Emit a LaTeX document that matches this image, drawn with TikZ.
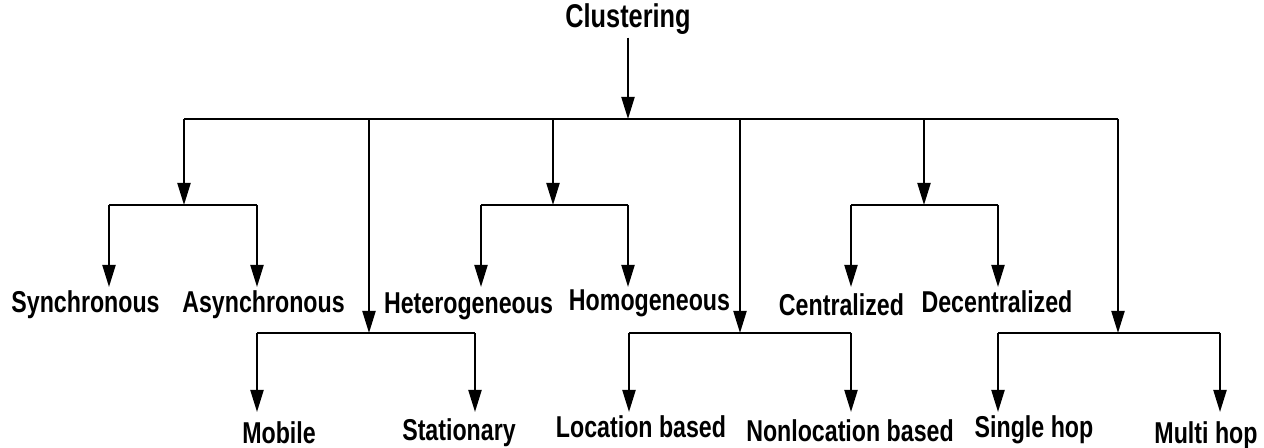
\documentclass[tikz,border=0pt]{standalone}
\usepackage{fontspec}
\setmainfont{Liberation Sans}
\usetikzlibrary{arrows.meta}
\begin{document}
\begin{tikzpicture}
        [leaf/.style={inner sep=0.5pt, anchor=north, yscale=1.3, transform shape, font=\fontsize{6.6}{8}\selectfont\bfseries},
        root/.style={inner sep=0.5pt, yscale=1.3, transform shape, font=\fontsize{7.2}{8}\selectfont\bfseries},
        line/.style={semithick},
        arr/.style={semithick, -{Triangle[length=0.22cm, width=0.13cm]}}]
        \useasboundingbox (0,0) rectangle (12.64,-4.48);
        \node[root] (C) at (6.28,-0.19) {Clustering};

        % top bus
        \coordinate (T1) at (1.84,-1.19);
        \coordinate (T2) at (3.69,-1.19);
        \coordinate (T3) at (5.53,-1.19);
        \coordinate (T0) at (6.28,-1.19);
        \coordinate (T4) at (7.40,-1.19);
        \coordinate (T5) at (9.24,-1.19);
        \coordinate (T6) at (11.18,-1.19);

        % sub buses
        \coordinate (A1) at (1.09,-2.05);
        \coordinate (A2) at (2.57,-2.05);
        \coordinate (H1) at (4.81,-2.05);
        \coordinate (H2) at (6.28,-2.05);
        \coordinate (Z1) at (8.51,-2.05);
        \coordinate (Z2) at (9.98,-2.05);
        \coordinate (M1) at (2.57,-3.33);
        \coordinate (M2) at (4.75,-3.33);
        \coordinate (L1) at (6.29,-3.33);
        \coordinate (L2) at (8.51,-3.33);
        \coordinate (S1) at (9.98,-3.33);
        \coordinate (S2) at (12.20,-3.33);

        \node[leaf] (syn) at (0.855,-2.87) {Synchronous};
        \node[leaf] (asy) at (2.635,-2.87) {Asynchronous};
        \node[leaf] (het) at (4.685,-2.90) {Heterogeneous};
        \node[leaf] (hom) at (6.495,-2.87) {Homogeneous};
        \node[leaf] (cen) at (8.415,-2.90) {Centralized};
        \node[leaf] (dec) at (9.97,-2.87) {Decentralized};

        \node[leaf] (mob) at (2.79,-4.18) {Mobile};
        \node[leaf] (sta) at (4.59,-4.15) {Stationary};
        \node[leaf] (loc) at (6.41,-4.12) {Location based};
        \node[leaf] (nlo) at (8.50,-4.16) {Nonlocation based};
        \node[leaf] (sin) at (10.34,-4.12) {Single hop};
        \node[leaf] (mul) at (12.06,-4.18) {Multi hop};

        \draw[arr] (C) -- (T0);
        \draw[line] (T1) -- (T6);

        \draw[arr] (T1) -- (T1 |- A1);
        \draw[arr] (T2) -- (T2 |- M1);
        \draw[arr] (T3) -- (T3 |- H1);
        \draw[arr] (T4) -- (T4 |- L1);
        \draw[arr] (T5) -- (T5 |- Z1);
        \draw[arr] (T6) -- (T6 |- S1);

        \draw[line] (A1) -- (A2);
        \draw[line] (H1) -- (H2);
        \draw[line] (Z1) -- (Z2);
        \draw[line] (M1) -- (M2);
        \draw[line] (L1) -- (L2);
        \draw[line] (S1) -- (S2);

        \draw[arr] (A1) -- (A1 |- syn.north);
        \draw[arr] (A2) -- (A2 |- asy.north);
        \draw[arr] (H1) -- (H1 |- syn.north);
        \draw[arr] (H2) -- (H2 |- syn.north);
        \draw[arr] (Z1) -- (Z1 |- syn.north);
        \draw[arr] (Z2) -- (Z2 |- syn.north);
        \draw[arr] (M1) -- (M1 |- sin.north);
        \draw[arr] (M2) -- (M2 |- sin.north);
        \draw[arr] (L1) -- (L1 |- sin.north);
        \draw[arr] (L2) -- (L2 |- sin.north);
        \draw[arr] (S1) -- (S1 |- sin.north);
        \draw[arr] (S2) -- (S2 |- sin.north);
\end{tikzpicture}
\end{document}
